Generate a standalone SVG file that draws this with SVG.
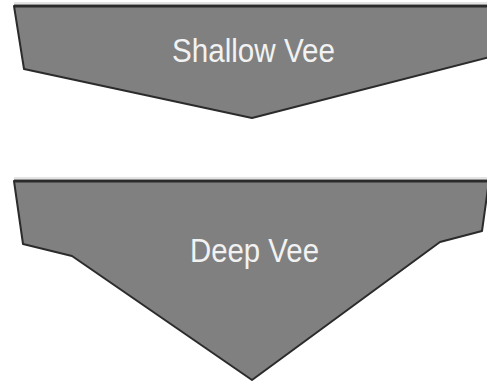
<svg xmlns="http://www.w3.org/2000/svg" width="487" height="383" viewBox="0 0 487 383">
<style>
.hull{fill:#808080;stroke:#2b2b2b;stroke-width:2;stroke-linejoin:round}
.top{stroke:#2b2b2b;stroke-width:3}
.shade{stroke:#c8c8c8;stroke-width:1}
.lbl{font-family:"Liberation Sans",Arial,sans-serif;font-size:33px;fill:#f2f2f2;text-anchor:middle}
</style>
<rect width="487" height="383" fill="#ffffff"/>
<g id="shallow-vee">
<line class="shade" x1="14" y1="3" x2="487" y2="3"/>
<polygon class="hull" points="14,6 24,69 252,118 490,57 493,6"/>
<line class="top" x1="14" y1="6" x2="487" y2="6"/>
<text class="lbl" x="253.5" y="62" textLength="163" lengthAdjust="spacingAndGlyphs">Shallow Vee</text>
</g>
<g id="deep-vee">
<line class="shade" x1="14" y1="178" x2="487" y2="178"/>
<polygon class="hull" points="14,181 23,244 72,256 252,380 440,242 482,231 489,181"/>
<line class="top" x1="14" y1="181" x2="487" y2="181"/>
<text class="lbl" x="254.5" y="262" textLength="129" lengthAdjust="spacingAndGlyphs">Deep Vee</text>
</g>
<g id="connectors"/>
</svg>
